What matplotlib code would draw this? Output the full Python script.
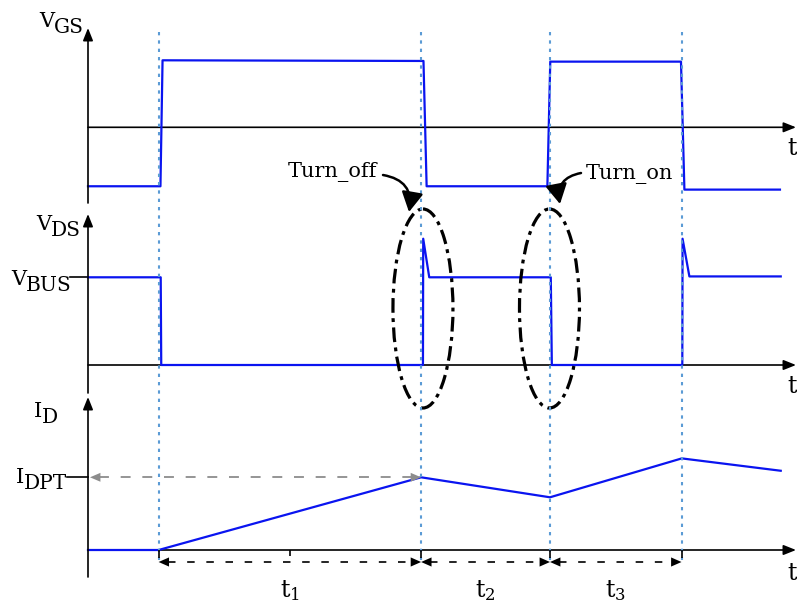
import matplotlib
matplotlib.use("Agg")
import matplotlib.pyplot as plt
from matplotlib.patches import Ellipse

plt.rcParams['font.family'] = ['DejaVu Serif']
plt.rcParams['mathtext.fontset'] = 'dejavuserif'
plt.rcParams['mathtext.default'] = 'regular'

# ---------------------------------------------------------------------------
# Double-pulse test waveforms (time in µs, levels normalised)
# ---------------------------------------------------------------------------
# switching instants: turn-on, turn-off, turn-on, turn-off
t_switch = [2.69, 12.69, 17.60, 22.61]
interval_names = ['$t_1$', '$t_2$', '$t_3$']

# gate-source voltage (normalised to the on-state level)
vgs_time = [0.00, 2.76, 2.84, 12.78, 12.90, 17.50, 17.61, 22.59, 22.72, 26.36]
vgs_level = [-0.88, -0.88, 1.00, 0.99, -0.88, -0.88, 0.98, 0.98, -0.93, -0.93]

# drain-source voltage (normalised to V_BUS)
vds_time = [0.00, 2.77, 2.79, 12.76, 12.77, 13.00, 17.63, 17.67, 22.64, 22.65, 22.91, 26.39]
vds_level = [1.00, 1.00, 0.00, 0.00, 1.44, 1.00, 1.00, 0.00, 0.00, 1.44, 1.01, 1.01]

# drain current (normalised to I_DPT)
id_time = [0.00, 2.69, 12.69, 17.60, 22.62, 26.39]
id_level = [0.00, 0.00, 1.00, 0.725, 1.26, 1.09]

V_BUS = 1.0
I_DPT = 1.0

# ---------------------------------------------------------------------------
# layout (pixels)
# ---------------------------------------------------------------------------
W, H = 797, 605
X0, PX_T = 88, 26.25            # pixel of t = 0, pixels per µs
T_MAX = (W - X0) / PX_T
T_TIP = (796 - X0) / PX_T

BLUE = '#0a14f0'
DOT_BLUE = '#5B9BD5'
GRAY = '#8c8c8c'

fig = plt.figure(figsize=(W / 100, H / 100), dpi=100)


def tx(px):
    return (px - X0) / PX_T


def panel(top, bot, zero, px_per_unit):
    ax = fig.add_axes([X0 / W, 1 - bot / H, 1 - X0 / W, (bot - top) / H])
    ax.set_xlim(0, T_MAX)
    ax.set_ylim(-(bot - zero) / px_per_unit, (zero - top) / px_per_unit)
    ax.axis('off')
    return ax


ax_gs = panel(0, 205, 127.3, 67.0)
ax_ds = panel(205, 392, 365.0, 87.7)
ax_id = panel(392, 605, 550.0, 72.7)

head_axis = dict(arrowstyle='-|>,head_length=0.75,head_width=0.3',
                 color='black', lw=1.2, shrinkA=0, shrinkB=0, mutation_scale=10)

for ax in (ax_gs, ax_ds, ax_id):
    ax.annotate('', xy=(T_TIP, 0), xytext=(0, 0), arrowprops=head_axis,
                annotation_clip=False)

ax_gs.plot(vgs_time, vgs_level, color=BLUE, lw=1.6, clip_on=False, zorder=3)
ax_ds.plot(vds_time, vds_level, color=BLUE, lw=1.6, clip_on=False, zorder=3)
ax_id.plot(id_time, id_level, color=BLUE, lw=1.6, clip_on=False, zorder=3)

# level markers on the vertical axes
ax_ds.plot([tx(70), 0], [V_BUS, V_BUS], color='black', lw=1.2, clip_on=False)
ax_id.plot([tx(67), 0], [I_DPT, I_DPT], color='black', lw=1.2, clip_on=False)

# I_DPT reference arrow
x_a, x_b = tx(90), t_switch[1]
ax_id.plot([x_a + 0.35, x_b - 0.35], [I_DPT, I_DPT], color=GRAY, lw=1.3,
           linestyle=(0, (5.5, 6.5)), clip_on=False)
head_gray = dict(arrowstyle='-|>,head_length=0.75,head_width=0.32',
                 color=GRAY, lw=0, shrinkA=0, shrinkB=0, mutation_scale=10)
ax_id.annotate('', xy=(x_a, I_DPT), xytext=(x_a + 0.4, I_DPT), arrowprops=head_gray,
               annotation_clip=False)
ax_id.annotate('', xy=(x_b, I_DPT), xytext=(x_b - 0.4, I_DPT), arrowprops=head_gray,
               annotation_clip=False)

# ---------------------------------------------------------------------------
# overlay: x in µs, y in pixels (for items tied to switching instants)
# ---------------------------------------------------------------------------
deco = fig.add_axes([0, 0, 1, 1])
deco.set_xlim(tx(0), tx(W))
deco.set_ylim(H, 0)
deco.axis('off')

deco.vlines(t_switch, 32, 560, color=DOT_BLUE, lw=1.5, linestyles=[(0, (1.6, 2.4))])

# ticks under the current axis
deco.vlines(t_switch, 550, 558, color='black', lw=1.2)
deco.vlines([(t_switch[0] + t_switch[1]) / 2], 550, 556, color='black', lw=1.2)

# interval dimension arrows
Y_DIM = 562
head_dim = dict(arrowstyle='-|>,head_length=0.75,head_width=0.33',
                color='black', lw=0, shrinkA=0, shrinkB=0, mutation_scale=10)
for a, b, name in zip(t_switch[:-1], t_switch[1:], interval_names):
    deco.plot([a + 0.35, b - 0.35], [Y_DIM, Y_DIM], color='black', lw=1.2,
              linestyle=(0, (4.5, 7.0)))
    deco.annotate('', xy=(a, Y_DIM), xytext=(a + 0.4, Y_DIM), arrowprops=head_dim)
    deco.annotate('', xy=(b, Y_DIM), xytext=(b - 0.4, Y_DIM), arrowprops=head_dim)
    deco.text((a + b) / 2, 597, name, fontsize=17, ha='center', va='baseline')

# switching-event ellipses
ell_style = dict(fill=False, edgecolor='black', lw=2.3,
                 linestyle=(0, (4.6, 1.7, 1.2, 1.7)))
deco.add_patch(Ellipse((t_switch[1] + 0.07, 308.5), 60 / PX_T, 199, **ell_style))
deco.add_patch(Ellipse((t_switch[2] - 0.02, 308.5), 60 / PX_T, 199, **ell_style))

# ---------------------------------------------------------------------------
# overlay in plain pixels: axes, labels, callouts
# ---------------------------------------------------------------------------
lab = fig.add_axes([0, 0, 1, 1])
lab.set_xlim(0, W)
lab.set_ylim(H, 0)
lab.axis('off')

for bot, tip in ((203, 28), (393, 214), (577, 397)):
    lab.annotate('', xy=(X0, tip), xytext=(X0, bot), arrowprops=head_axis)

for yb in (155, 393, 580):
    lab.text(787, yb, 't', fontsize=17, ha='left', va='baseline')


def sub_label(x, y, main, sub, size=15):
    m = lab.text(x, y, main, fontsize=size, ha='left', va='baseline')
    lab.annotate(sub, xy=(1, 0), xycoords=m, xytext=(0, -4.5),
                 textcoords='offset points', fontsize=size - 0.5,
                 ha='left', va='bottom')


sub_label(39, 27, 'V', 'GS')
sub_label(36, 230, 'V', 'DS')
sub_label(11, 285, 'V', 'BUS')
sub_label(34, 417, 'I', 'D')
sub_label(16, 483, 'I', 'DPT')

callout = dict(arrowstyle='-|>,head_length=0.6,head_width=0.33',
               color='black', lw=1.8, shrinkA=0, shrinkB=0, mutation_scale=20)
lab.text(288, 177, 'Turn_off', fontsize=15, ha='left', va='baseline')
lab.annotate('', xy=(409, 212), xytext=(383, 175),
             arrowprops=dict(connectionstyle='arc3,rad=-0.5', **callout))
lab.text(586, 179, 'Turn_on', fontsize=15, ha='left', va='baseline')
lab.annotate('', xy=(560, 204), xytext=(581, 173),
             arrowprops=dict(connectionstyle='arc3,rad=0.5', **callout))

fig.savefig('out.png', dpi=100)
